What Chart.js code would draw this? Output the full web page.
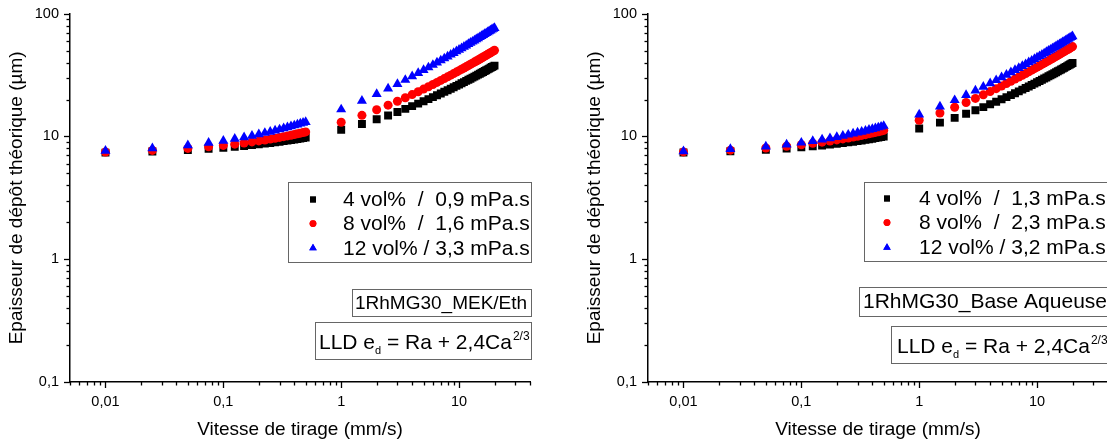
<!DOCTYPE html>
<html>
<head>
<meta charset="utf-8">
<script src="https://cdn.jsdelivr.net/npm/chart.js@4/dist/chart.umd.min.js"></script>
<style>
  html, body { margin: 0; padding: 0; background: #fff; }
  #wrap { position: relative; width: 1107px; height: 445px; overflow: hidden; }
  .panel { position: absolute; top: 0; height: 445px; overflow: hidden; }
</style>
</head>
<body>
<div id="wrap">
  <div class="panel" style="left:0; width:578px;"><canvas id="c1" width="578" height="445"></canvas></div>
  <div class="panel" style="left:578px; width:529px;"><canvas id="c2" width="578" height="445"></canvas></div>
</div>
<script>
// ---------- data ----------
const speeds = [0.01, 0.025, 0.05, 0.075, 0.1, 0.125, 0.15, 0.175, 0.2, 0.225, 0.25, 0.275, 0.3, 0.325, 0.35, 0.375, 0.4, 0.425, 0.45, 0.475, 0.5,
  1, 1.5, 2, 2.5, 3, 3.5, 4, 4.5, 5, 5.5, 6, 6.5, 7, 7.5, 8, 8.5, 9, 9.5, 10, 10.5, 11, 11.5, 12, 12.5, 13, 13.5, 14, 14.5, 15, 15.5,
  16, 16.5, 17, 17.5, 18, 18.5, 19, 19.5, 20];

// Left panel : 1RhMG30_MEK/Eth
const mekLabels = ["4 vol%  /  0,9 mPa.s", "8 vol%  /  1,6 mPa.s", "12 vol% / 3,3 mPa.s"];
const mek4 = [7.39, 7.55, 7.76, 7.94, 8.09, 8.24, 8.37, 8.50, 8.62, 8.74, 8.85, 8.96, 9.06, 9.16, 9.26, 9.36, 9.45, 9.55, 9.64, 9.73, 9.81,
  11.35, 12.64, 13.79, 14.84, 15.83, 16.77, 17.66, 18.51, 19.33, 20.13, 20.90, 21.65, 22.39, 23.10, 23.80, 24.48, 25.16, 25.81, 26.46,
  27.10, 27.73, 28.35, 28.95, 29.55, 30.14, 30.73, 31.31, 31.88, 32.44, 33.00, 33.55, 34.10, 34.64, 35.17, 35.70, 36.23, 36.75, 37.26, 37.78];
const mek8 = [7.47, 7.70, 7.99, 8.24, 8.46, 8.66, 8.85, 9.03, 9.20, 9.36, 9.52, 9.67, 9.82, 9.96, 10.11, 10.24, 10.38, 10.51, 10.64, 10.76, 10.89,
  13.05, 14.87, 16.49, 17.98, 19.37, 20.69, 21.94, 23.15, 24.31, 25.43, 26.52, 27.57, 28.61, 29.61, 30.60, 31.56, 32.51, 33.44, 34.35,
  35.25, 36.13, 37.01, 37.86, 38.71, 39.54, 40.37, 41.18, 41.99, 42.78, 43.57, 44.35, 45.12, 45.88, 46.63, 47.38, 48.12, 48.85, 49.58, 50.30];
const mek12 = [7.64, 8.00, 8.48, 8.87, 9.22, 9.55, 9.85, 10.14, 10.41, 10.68, 10.93, 11.18, 11.41, 11.64, 11.87, 12.09, 12.30, 12.51, 12.72, 12.92, 13.12,
  16.60, 19.52, 22.12, 24.51, 26.75, 28.87, 30.89, 32.82, 34.69, 36.49, 38.24, 39.94, 41.60, 43.22, 44.80, 46.35, 47.87, 49.36, 50.83,
  52.27, 53.69, 55.09, 56.47, 57.83, 59.17, 60.49, 61.80, 63.10, 64.37, 65.64, 66.89, 68.12, 69.35, 70.56, 71.76, 72.95, 74.12, 75.29, 76.46];

// Right panel : 1RhMG30_Base Aqueuse
const aqLabels = ["4 vol%  /  1,3 mPa.s", "8 vol%  /  2,3 mPa.s", "12 vol% / 3,2 mPa.s"];
const aq4 = [7.40, 7.58, 7.80, 7.98, 8.15, 8.30, 8.44, 8.58, 8.70, 8.83, 8.95, 9.06, 9.17, 9.28, 9.39, 9.49, 9.59, 9.69, 9.78, 9.88, 9.97,
  11.60, 12.97, 14.18, 15.30, 16.35, 17.34, 18.29, 19.19, 20.07, 20.91, 21.73, 22.52, 23.30, 24.06, 24.80, 25.53, 26.24, 26.94, 27.62,
  28.30, 28.96, 29.62, 30.26, 30.90, 31.53, 32.15, 32.76, 33.36, 33.96, 34.55, 35.14, 35.72, 36.29, 36.86, 37.42, 37.98, 38.53, 39.07, 39.62];
const aq8 = [7.49, 7.74, 8.06, 8.33, 8.57, 8.79, 8.99, 9.19, 9.37, 9.55, 9.72, 9.89, 10.05, 10.20, 10.35, 10.50, 10.65, 10.79, 10.93, 11.07, 11.20,
  13.55, 15.52, 17.28, 18.90, 20.41, 21.84, 23.20, 24.51, 25.77, 26.99, 28.17, 29.32, 30.44, 31.53, 32.60, 33.65, 34.67, 35.68, 36.67,
  37.65, 38.61, 39.55, 40.48, 41.40, 42.31, 43.20, 44.09, 44.96, 45.82, 46.68, 47.52, 48.36, 49.18, 50.00, 50.81, 51.62, 52.41, 53.20, 53.99];
const aq12 = [7.57, 7.88, 8.27, 8.60, 8.90, 9.18, 9.43, 9.67, 9.90, 10.12, 10.34, 10.54, 10.74, 10.93, 11.12, 11.31, 11.49, 11.67, 11.84, 12.01, 12.18,
  15.10, 17.55, 19.74, 21.75, 23.63, 25.41, 27.11, 28.73, 30.30, 31.81, 33.28, 34.71, 36.11, 37.47, 38.80, 40.10, 41.38, 42.64, 43.87,
  45.08, 46.27, 47.45, 48.61, 49.75, 50.88, 51.99, 53.09, 54.18, 55.25, 56.31, 57.36, 58.40, 59.43, 60.45, 61.46, 62.46, 63.45, 64.43, 65.41];

const xTicks = [0.01, 0.1, 1, 10];
const yTicks = [0.1, 1, 10, 100];
const xTitle = "Vitesse de tirage (mm/s)";
const yTitle = "Epaisseur de dépôt théorique (µm)";
const LLD_MAIN = "LLD e", LLD_SUB = "d", LLD_REST = " = Ra + 2,4Ca", LLD_SUP = "2/3";

// ---------- rendering ----------
const FONT = '"Liberation Sans", Arial, sans-serif';
const fmt = v => String(v).replace('.', ',');

const styles = [
  { color: '#000000', pointStyle: 'rect', radius: 5.6, order: 2 },
  { color: '#ff0000', pointStyle: 'circle', radius: 4.5, order: 1 },
  { color: '#0000ff', pointStyle: 'triangle', radius: 5.8, order: 0 }
];

const boxesPlugin = {
  id: 'boxes',
  afterDraw(chart, args, o) {
    const ctx = chart.ctx;
    const xs = chart.scales.x, ys = chart.scales.y, ca = chart.chartArea;
    ctx.save();
    // tick marks (major & minor) on both axes, placed through the scales
    ctx.strokeStyle = '#000'; ctx.lineWidth = 1.3;
    for (let e = -3; e <= 2; e++) {
      for (let m = 1; m <= 9; m++) {
        const v = m * Math.pow(10, e);
        const len = m === 1 ? 6 : 3.5;
        if (v >= xs.min * 0.999 && v <= xs.max * 1.001) {
          const px = Math.round(xs.getPixelForValue(v)) + 0.5;
          ctx.beginPath(); ctx.moveTo(px, ca.bottom); ctx.lineTo(px, ca.bottom + len); ctx.stroke();
        }
        if (v >= ys.min * 0.999 && v <= ys.max * 1.001) {
          const py = Math.round(ys.getPixelForValue(v)) + 0.5;
          ctx.beginPath(); ctx.moveTo(ca.left, py); ctx.lineTo(ca.left - len, py); ctx.stroke();
        }
      }
    }
    // legend box
    const L = o.legend;
    ctx.fillStyle = '#fff'; ctx.strokeStyle = '#666'; ctx.lineWidth = 1;
    ctx.fillRect(L.x, L.y, L.w, L.h); ctx.strokeRect(L.x + 0.5, L.y + 0.5, L.w, L.h);
    chart.data.datasets.forEach((ds, i) => {
      const ry = L.rows[i];
      ctx.fillStyle = ds.backgroundColor;
      Chart.helpers.drawPoint(ctx, { pointStyle: ds.pointStyle, radius: ds.pointRadius * 0.75, rotation: 0, borderWidth: 0 }, L.mx, ry);
      ctx.fill();
      ctx.fillStyle = '#000'; ctx.font = L.font + 'px ' + FONT; ctx.textBaseline = 'middle'; ctx.textAlign = 'left';
      ctx.fillText(ds.label, L.tx, ry + 1);
    });
    // name box
    const N = o.name;
    ctx.fillStyle = '#fff'; ctx.strokeStyle = '#666';
    ctx.fillRect(N.x, N.y, N.w, N.h); ctx.strokeRect(N.x + 0.5, N.y + 0.5, N.w, N.h);
    ctx.fillStyle = '#000'; ctx.font = N.font + 'px ' + FONT; ctx.textBaseline = 'middle';
    ctx.fillText(N.text, N.tx, N.y + N.h / 2 + 1);
    // LLD box
    const F = o.lld;
    ctx.fillStyle = '#fff'; ctx.strokeStyle = '#666';
    ctx.fillRect(F.x, F.y, F.w, F.h); ctx.strokeRect(F.x + 0.5, F.y + 0.5, F.w, F.h);
    ctx.fillStyle = '#000'; ctx.textBaseline = 'alphabetic';
    let x = F.tx; const base = F.y + F.h / 2 + 8;
    ctx.font = '21px ' + FONT; ctx.fillText(LLD_MAIN, x, base); x += ctx.measureText(LLD_MAIN).width;
    ctx.font = '11px ' + FONT; ctx.fillText(LLD_SUB, x, base + 5); x += ctx.measureText(LLD_SUB).width;
    ctx.font = '21px ' + FONT; ctx.fillText(LLD_REST, x, base); x += ctx.measureText(LLD_REST).width;
    ctx.font = '12px ' + FONT; ctx.fillText(LLD_SUP, x + 1, base - 9);
    ctx.restore();
  }
};

function makeChart(id, labels, series, boxes) {
  const datasets = series.map((vals, i) => ({
    label: labels[i],
    data: speeds.map((s, k) => ({ x: s, y: vals[k] })),
    backgroundColor: styles[i].color,
    borderColor: styles[i].color,
    borderWidth: 0,
    pointStyle: styles[i].pointStyle,
    pointRadius: styles[i].radius,
    pointHoverRadius: styles[i].radius,
    order: styles[i].order
  }));
  return new Chart(document.getElementById(id), {
    type: 'scatter',
    data: { datasets },
    plugins: [boxesPlugin],
    options: {
      responsive: false,
      animation: false,
      devicePixelRatio: 1,
      layout: { padding: { left: 0, right: 48, top: 12, bottom: 0 } },
      plugins: { legend: { display: false }, tooltip: { enabled: false }, boxes: boxes },
      scales: {
        x: {
          type: 'logarithmic', min: 0.005, max: 40,
          afterBuildTicks: s => { s.ticks = xTicks.map(v => ({ value: v })); },
          afterFit: s => { s.height = 63; },
          ticks: { callback: v => fmt(v), color: '#000', font: { family: FONT, size: 14.5 }, padding: 5, autoSkip: false, maxRotation: 0 },
          grid: { display: false, drawTicks: true, tickLength: 6 },
          border: { display: true, color: '#000', width: 1.5 },
          title: { display: true, text: xTitle, color: '#000', font: { family: FONT, size: 19 }, padding: { top: 0, bottom: 4 } }
        },
        y: {
          type: 'logarithmic', min: 0.1, max: 100,
          afterBuildTicks: s => { s.ticks = yTicks.map(v => ({ value: v })); },
          afterFit: s => { s.width = 70; },
          ticks: { callback: v => fmt(v), color: '#000', font: { family: FONT, size: 14.5 }, padding: 5, autoSkip: false },
          grid: { display: false, drawTicks: true, tickLength: 6 },
          border: { display: true, color: '#000', width: 1.5 },
          title: { display: true, text: yTitle, color: '#000', font: { family: FONT, size: 19 }, padding: { top: 5, bottom: 0 } }
        }
      }
    }
  });
}

makeChart('c1', mekLabels, [mek4, mek8, mek12], {
  legend: { x: 288, y: 182, w: 243, h: 80, mx: 313, tx: 343, font: 21, rows: [199.5, 223.5, 248] },
  name: { x: 352, y: 289, w: 179, h: 27, tx: 355, font: 19, text: "1RhMG30_MEK/Eth" },
  lld: { x: 315, y: 322, w: 216, h: 37, tx: 319 }
});
makeChart('c2', aqLabels, [aq4, aq8, aq12], {
  legend: { x: 286, y: 182, w: 250, h: 79, mx: 309, tx: 341, font: 21, rows: [198.5, 222.5, 247.5] },
  name: { x: 281, y: 287, w: 260, h: 29, tx: 285, font: 21, text: "1RhMG30_Base Aqueuse" },
  lld: { x: 313, y: 326, w: 230, h: 37, tx: 319 }
});
</script>
</body>
</html>
